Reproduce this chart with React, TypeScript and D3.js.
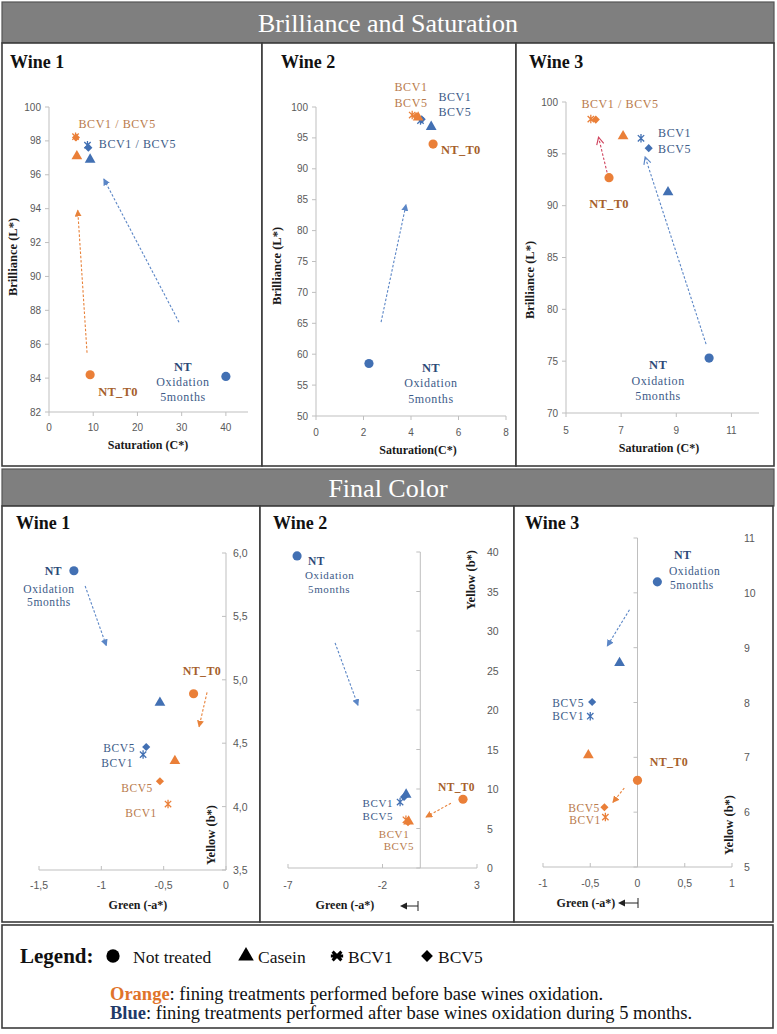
import React from "react";
import * as d3 from "d3";

// ---------------- categories ----------------
const treatments = ["NT", "Casein", "BCV1", "BCV5"];
const legendNames = ["Not treated", "Casein", "BCV1", "BCV5"];

type Pt = { g: "before" | "after"; t: string; x: number; y: number };
type Arr = { c: "orange" | "blue" | "pink"; x1: number; y1: number; x2: number; y2: number };
type Lbl = { s: string; x: number; y: number; k: "o" | "ob" | "b" | "bb"; a: "start" | "middle" | "end" };

// ---------------- Brilliance (L*) vs Saturation (C*) ----------------
const satWine1: Pt[] = [
  { g: "before", t: "NT", x: 9.3, y: 84.2 },
  { g: "before", t: "Casein", x: 6.3, y: 97.1 },
  { g: "before", t: "BCV5", x: 6.1, y: 98.2 },
  { g: "before", t: "BCV1", x: 6.0, y: 98.25 },
  { g: "after", t: "NT", x: 40, y: 84.1 },
  { g: "after", t: "Casein", x: 9.3, y: 96.9 },
  { g: "after", t: "BCV5", x: 8.9, y: 97.6 },
  { g: "after", t: "BCV1", x: 8.7, y: 97.75 },
];
const satWine2: Pt[] = [
  { g: "after", t: "NT", x: 2.23, y: 58.5 },
  { g: "after", t: "Casein", x: 4.85, y: 96.8 },
  { g: "after", t: "BCV1", x: 4.4, y: 97.8 },
  { g: "after", t: "BCV5", x: 4.45, y: 98.0 },
  { g: "before", t: "NT", x: 4.93, y: 94.0 },
  { g: "before", t: "Casein", x: 4.3, y: 98.3 },
  { g: "before", t: "BCV1", x: 4.05, y: 98.7 },
  { g: "before", t: "BCV5", x: 4.22, y: 98.5 },
];
const satWine3: Pt[] = [
  { g: "after", t: "NT", x: 10.19, y: 75.3 },
  { g: "after", t: "Casein", x: 8.7, y: 91.3 },
  { g: "after", t: "BCV1", x: 7.72, y: 96.5 },
  { g: "after", t: "BCV5", x: 8.0, y: 95.55 },
  { g: "before", t: "NT", x: 6.56, y: 92.7 },
  { g: "before", t: "Casein", x: 7.07, y: 96.7 },
  { g: "before", t: "BCV1", x: 5.9, y: 98.35 },
  { g: "before", t: "BCV5", x: 6.08, y: 98.3 },
];
const satWine1Arrows: Arr[] = [
  { c: "orange", x1: 8.6, y1: 85.5, x2: 6.5, y2: 93.9 },
  { c: "blue", x1: 29.4, y1: 87.3, x2: 12.4, y2: 95.75 },
];
const satWine2Arrows: Arr[] = [{ c: "blue", x1: 2.74, y1: 65.2, x2: 3.79, y2: 84.2 }];
const satWine3Arrows: Arr[] = [
  { c: "pink", x1: 6.49, y1: 93.2, x2: 6.18, y2: 96.6 },
  { c: "blue", x1: 10.08, y1: 76.65, x2: 7.87, y2: 94.7 },
];
const satWine1Labels: Lbl[] = [
  { s: "BCV1 / BCV5", x: 15.4, y: 99.0, k: "o", a: "middle" },
  { s: "BCV1 / BCV5", x: 20.0, y: 97.8, k: "b", a: "middle" },
  { s: "NT_T0", x: 15.6, y: 83.2, k: "ob", a: "middle" },
  { s: "NT", x: 30.3, y: 84.65, k: "bb", a: "middle" },
  { s: "Oxidation", x: 30.3, y: 83.75, k: "b", a: "middle" },
  { s: "5months", x: 30.3, y: 82.9, k: "b", a: "middle" },
];
const satWine2Labels: Lbl[] = [
  { s: "BCV1", x: 4.0, y: 103.2, k: "o", a: "middle" },
  { s: "BCV5", x: 4.0, y: 100.65, k: "o", a: "middle" },
  { s: "BCV1", x: 5.85, y: 101.6, k: "b", a: "middle" },
  { s: "BCV5", x: 5.85, y: 99.2, k: "b", a: "middle" },
  { s: "NT_T0", x: 5.26, y: 93.1, k: "ob", a: "start" },
  { s: "NT", x: 4.84, y: 57.7, k: "bb", a: "middle" },
  { s: "Oxidation", x: 4.84, y: 55.3, k: "b", a: "middle" },
  { s: "5months", x: 4.84, y: 52.7, k: "b", a: "middle" },
];
const satWine3Labels: Lbl[] = [
  { s: "BCV1 / BCV5", x: 6.96, y: 99.8, k: "o", a: "middle" },
  { s: "BCV1", x: 8.34, y: 97.0, k: "b", a: "start" },
  { s: "BCV5", x: 8.34, y: 95.5, k: "b", a: "start" },
  { s: "NT_T0", x: 6.56, y: 90.2, k: "ob", a: "middle" },
  { s: "NT", x: 8.34, y: 74.6, k: "bb", a: "middle" },
  { s: "Oxidation", x: 8.34, y: 73.1, k: "b", a: "middle" },
  { s: "5months", x: 8.34, y: 71.6, k: "b", a: "middle" },
];

// ---------------- Final colour: Yellow (b*) vs Green (-a*) ----------------
const colWine1: Pt[] = [
  { g: "after", t: "NT", x: -1.22, y: 5.86 },
  { g: "after", t: "Casein", x: -0.53, y: 4.82 },
  { g: "after", t: "BCV5", x: -0.64, y: 4.47 },
  { g: "after", t: "BCV1", x: -0.665, y: 4.41 },
  { g: "before", t: "NT", x: -0.26, y: 4.89 },
  { g: "before", t: "Casein", x: -0.41, y: 4.36 },
  { g: "before", t: "BCV5", x: -0.53, y: 4.2 },
  { g: "before", t: "BCV1", x: -0.465, y: 4.02 },
];
const colWine2: Pt[] = [
  { g: "after", t: "NT", x: -6.52, y: 39.5 },
  { g: "after", t: "BCV1", x: -1.07, y: 8.35 },
  { g: "after", t: "BCV5", x: -0.86, y: 9.0 },
  { g: "after", t: "Casein", x: -0.75, y: 9.3 },
  { g: "before", t: "NT", x: 2.26, y: 8.7 },
  { g: "before", t: "Casein", x: -0.62, y: 5.9 },
  { g: "before", t: "BCV1", x: -0.76, y: 6.1 },
  { g: "before", t: "BCV5", x: -0.65, y: 5.8 },
];
const colWine3: Pt[] = [
  { g: "after", t: "NT", x: 0.21, y: 10.2 },
  { g: "after", t: "Casein", x: -0.19, y: 8.72 },
  { g: "after", t: "BCV5", x: -0.48, y: 8.01 },
  { g: "after", t: "BCV1", x: -0.5, y: 7.75 },
  { g: "before", t: "NT", x: 0.0, y: 6.58 },
  { g: "before", t: "Casein", x: -0.52, y: 7.04 },
  { g: "before", t: "BCV5", x: -0.35, y: 6.09 },
  { g: "before", t: "BCV1", x: -0.34, y: 5.91 },
];
const colWine1Arrows: Arr[] = [
  { c: "blue", x1: -1.13, y1: 5.74, x2: -0.96, y2: 5.27 },
  { c: "orange", x1: -0.152, y1: 4.9, x2: -0.216, y2: 4.63 },
];
const colWine2Arrows: Arr[] = [
  { c: "blue", x1: -4.51, y1: 28.5, x2: -3.3, y2: 20.6 },
  { c: "orange", x1: 1.62, y1: 8.2, x2: 0.3, y2: 6.45 },
];
const colWine3Arrows: Arr[] = [
  { c: "blue", x1: -0.085, y1: 9.69, x2: -0.32, y2: 9.03 },
  { c: "orange", x1: -0.14, y1: 6.44, x2: -0.26, y2: 6.18 },
];
const colWine1Labels: Lbl[] = [
  { s: "NT", x: -1.316, y: 5.858, k: "bb", a: "end" },
  { s: "Oxidation", x: -1.42, y: 5.72, k: "b", a: "middle" },
  { s: "5months", x: -1.42, y: 5.61, k: "b", a: "middle" },
  { s: "NT_T0", x: -0.193, y: 5.07, k: "ob", a: "middle" },
  { s: "BCV5", x: -0.73, y: 4.46, k: "b", a: "end" },
  { s: "BCV1", x: -0.745, y: 4.34, k: "b", a: "end" },
  { s: "BCV5", x: -0.586, y: 4.15, k: "o", a: "end" },
  { s: "BCV1", x: -0.554, y: 3.95, k: "o", a: "end" },
];
const colWine2Labels: Lbl[] = [
  { s: "NT", x: -5.94, y: 38.9, k: "bb", a: "start" },
  { s: "Oxidation", x: -6.1, y: 37.1, k: "b", a: "start" },
  { s: "5months", x: -5.94, y: 35.3, k: "b", a: "start" },
  { s: "NT_T0", x: 0.94, y: 10.25, k: "ob", a: "start" },
  { s: "BCV1", x: -1.44, y: 8.2, k: "b", a: "end" },
  { s: "BCV5", x: -1.44, y: 6.6, k: "b", a: "end" },
  { s: "BCV1", x: -1.39, y: 4.3, k: "o", a: "middle" },
  { s: "BCV5", x: -1.13, y: 2.8, k: "o", a: "middle" },
];
const colWine3Labels: Lbl[] = [
  { s: "NT", x: 0.386, y: 10.69, k: "bb", a: "start" },
  { s: "Oxidation", x: 0.333, y: 10.4, k: "b", a: "start" },
  { s: "5months", x: 0.344, y: 10.14, k: "b", a: "start" },
  { s: "BCV5", x: -0.566, y: 8.0, k: "b", a: "end" },
  { s: "BCV1", x: -0.566, y: 7.75, k: "b", a: "end" },
  { s: "NT_T0", x: 0.13, y: 6.91, k: "ob", a: "start" },
  { s: "BCV5", x: -0.397, y: 6.08, k: "o", a: "end" },
  { s: "BCV1", x: -0.387, y: 5.86, k: "o", a: "end" },
];

// ---------------- ticks ----------------
const satWine1XTicks = [0, 10, 20, 30, 40];
const satWine1YTicks = [82, 84, 86, 88, 90, 92, 94, 96, 98, 100];
const satWine2XTicks = [0, 2, 4, 6, 8];
const satWine2YTicks = [50, 55, 60, 65, 70, 75, 80, 85, 90, 95, 100];
const satWine3XTicks = [5, 7, 9, 11];
const satWine3YTicks = [70, 75, 80, 85, 90, 95, 100];
const colWine1XTicks = [-1.5, -1, -0.5, 0];
const colWine1YTicks = [3.5, 4, 4.5, 5, 5.5, 6];
const colWine2XTicks = [-7, -2, 3];
const colWine2YTicks = [0, 5, 10, 15, 20, 25, 30, 35, 40];
const colWine3XTicks = [-1, -0.5, 0, 0.5, 1];
const colWine3YTicks = [5, 6, 7, 8, 9, 10, 11];

// ---------------- styling ----------------
const SERIF = "Liberation Serif, DejaVu Serif, serif";
const SANS = "Liberation Sans, Arial, sans-serif";
const AXIS = "#bfbfbf";
const FRAME = "#3c3c3c";
const markColor = { before: "#EA7F38", after: "#4270B3" };
const textColor = { o: "#B97B4C", ob: "#A65F2C", b: "#3D5B88", bb: "#2D4A78" };
const arrowColor = { orange: "#E8823A", blue: "#5B86C6", pink: "#D0455F" };

const loc = d3.formatLocale({ decimal: ",", thousands: ".", grouping: [3], currency: ["", ""], minus: "-" });
const fmtG = loc.format("~g");
const fmt1 = loc.format(".1f");
const fmtD = loc.format("d");

const starType = {
  draw(ctx: any, size: number) {
    const r = Math.sqrt(size) / 2;
    const k = r * 0.75;
    ctx.moveTo(0, -r);
    ctx.lineTo(0, r);
    ctx.moveTo(-k, -k);
    ctx.lineTo(k, k);
    ctx.moveTo(-k, k);
    ctx.lineTo(k, -k);
  },
};
const legendStarType = {
  draw(ctx: any, size: number) {
    const r = Math.sqrt(size) / 2;
    const k = r * 0.72;
    ctx.moveTo(-r, 0);
    ctx.lineTo(r, 0);
    ctx.moveTo(-k, -k);
    ctx.lineTo(k, k);
    ctx.moveTo(-k, k);
    ctx.lineTo(k, -k);
  },
};
const symTypes: Record<string, any> = {
  NT: d3.symbolCircle,
  Casein: d3.symbolTriangle,
  BCV1: starType,
  BCV5: d3.symbolDiamond2,
};
const symSizes: Record<string, number> = { NT: 66, Casein: 50, BCV1: 72, BCV5: 42 };

function Mark({ t, cx, cy, color, scale = 1, star = starType, sw = 1.3 }: any) {
  const type = t === "BCV1" ? star : symTypes[t];
  const d = d3.symbol().type(type).size(symSizes[t] * scale)()!;
  const isStar = t === "BCV1";
  return (
    <path
      d={d}
      transform={`translate(${cx},${cy})`}
      fill={isStar ? "none" : color}
      stroke={isStar ? color : "none"}
      strokeWidth={isStar ? sw : 0}
    />
  );
}

type Layout = {
  box: [number, number, number, number];
  title: string;
  titlePos: [number, number];
  xDomain: [number, number];
  xRange: [number, number];
  yDomain: [number, number];
  yRange: [number, number];
  xAxisAt: number;
  yAxisAt: number;
  xTickDir: number;
  xLabelY: number;
  yLabelX: number | null;
  yLabelAnchor: "start" | "end";
  tickFont: number;
  labelFont: number;
  xTitle: string;
  xTitlePos: [number, number];
  yTitle: string;
  yTitlePos: [number, number];
  backArrow?: [number, number, number];
  openHeads?: boolean;
};

function Panel({ L, pts, arrows, labels, xTicks, yTicks, xFmt, yFmt }: any) {
  const lay = L as Layout;
  const x = d3.scaleLinear().domain(lay.xDomain).range(lay.xRange);
  const y = d3.scaleLinear().domain(lay.yDomain).range(lay.yRange);
  const axY = y(lay.xAxisAt);
  const axX = x(lay.yAxisAt);
  const yLabX = lay.yLabelX ?? axX - 8;
  return (
    <g>
      <rect x={lay.box[0]} y={lay.box[1]} width={lay.box[2]} height={lay.box[3]} fill="#fff" stroke={FRAME} strokeWidth={1.6} />
      <text x={lay.titlePos[0]} y={lay.titlePos[1]} fontFamily={SERIF} fontWeight="bold" fontSize={18} fill="#111">
        {lay.title}
      </text>
      {/* x axis */}
      <line x1={x(lay.xDomain[0])} x2={x(lay.xDomain[1])} y1={axY} y2={axY} stroke={AXIS} strokeWidth={1} />
      {xTicks.map((v: number) => (
        <g key={"xt" + v}>
          <line x1={x(v)} x2={x(v)} y1={axY} y2={axY + lay.xTickDir * 4} stroke={AXIS} />
          <text x={x(v)} y={lay.xLabelY} textAnchor="middle" dominantBaseline="central" fontFamily={SANS} fontSize={lay.tickFont} fill="#595959">
            {xFmt(v)}
          </text>
        </g>
      ))}
      {/* y axis */}
      <line x1={axX} x2={axX} y1={y(lay.yDomain[0])} y2={y(lay.yDomain[1])} stroke={AXIS} strokeWidth={1} />
      {yTicks.map((v: number) => (
        <g key={"yt" + v}>
          <line x1={axX - 4} x2={axX} y1={y(v)} y2={y(v)} stroke={AXIS} />
          <text x={yLabX} y={y(v)} textAnchor={lay.yLabelAnchor} dominantBaseline="central" fontFamily={SANS} fontSize={lay.tickFont} fill="#595959">
            {yFmt(v)}
          </text>
        </g>
      ))}
      {/* axis titles */}
      <text x={lay.xTitlePos[0]} y={lay.xTitlePos[1]} textAnchor="middle" dominantBaseline="central" fontFamily={SERIF} fontWeight="bold" fontSize={12} fill="#1a1a1a">
        {lay.xTitle}
      </text>
      {lay.backArrow && (
        <g stroke="#222" strokeWidth={1}>
          <line x1={lay.backArrow[0]} x2={lay.backArrow[1] + 5} y1={lay.backArrow[2]} y2={lay.backArrow[2]} />
          <line x1={lay.backArrow[0]} x2={lay.backArrow[0]} y1={lay.backArrow[2] - 5} y2={lay.backArrow[2] + 5} />
          <path d={`M${lay.backArrow[1]},${lay.backArrow[2]} l7,-3.5 l0,7 z`} fill="#222" stroke="none" />
        </g>
      )}
      <text
        transform={`translate(${lay.yTitlePos[0]},${lay.yTitlePos[1]}) rotate(-90)`}
        textAnchor="middle"
        dominantBaseline="central"
        fontFamily={SERIF}
        fontWeight="bold"
        fontSize={12.5}
        fill="#1a1a1a"
      >
        {lay.yTitle}
      </text>
      {/* arrows */}
      {arrows.map((a: Arr, i: number) => (
        <line
          key={"ar" + i}
          x1={x(a.x1)}
          y1={y(a.y1)}
          x2={x(a.x2)}
          y2={y(a.y2)}
          stroke={arrowColor[a.c]}
          strokeWidth={1.1}
          strokeDasharray="2.5,1.8"
          markerEnd={`url(#head-${a.c}${lay.openHeads ? "-open" : ""})`}
        />
      ))}
      {/* points */}
      {pts.map((p: Pt, i: number) => (
        <Mark key={"p" + i} t={p.t} cx={x(p.x)} cy={y(p.y)} color={markColor[p.g]} />
      ))}
      {/* labels */}
      {labels.map((l: Lbl, i: number) => {
        const bold = l.k === "ob" || l.k === "bb";
        return (
          <text
            key={"l" + i}
            x={x(l.x)}
            y={y(l.y)}
            textAnchor={l.a}
            dominantBaseline="central"
            fontFamily={SERIF}
            fontSize={bold ? lay.labelFont + 0.5 : lay.labelFont}
            fontWeight={bold ? "bold" : "normal"}
            letterSpacing={bold ? 0.3 : 0.6}
            fill={textColor[l.k]}
          >
            {l.s}
          </text>
        );
      })}
    </g>
  );
}

const satL1: Layout = {
  box: [2, 43, 260, 423], title: "Wine 1", titlePos: [10, 68],
  xDomain: [0, 45], xRange: [49, 248], yDomain: [82, 100], yRange: [412, 107],
  xAxisAt: 82, yAxisAt: 0, xTickDir: 1, xLabelY: 427, yLabelX: null, yLabelAnchor: "end", tickFont: 10, labelFont: 12,
  xTitle: "Saturation (C*)", xTitlePos: [148, 445], yTitle: "Brilliance (L*)", yTitlePos: [13, 257],
};
const satL2: Layout = {
  box: [262, 43, 254, 423], title: "Wine 2", titlePos: [281, 68],
  xDomain: [0, 8], xRange: [316, 506], yDomain: [50, 100], yRange: [416, 107],
  xAxisAt: 50, yAxisAt: 0, xTickDir: 1, xLabelY: 432, yLabelX: null, yLabelAnchor: "end", tickFont: 10, labelFont: 12,
  xTitle: "Saturation(C*)", xTitlePos: [418, 450], yTitle: "Brilliance (L*)", yTitlePos: [277, 266],
};
const satL3: Layout = {
  box: [516, 43, 258, 423], title: "Wine 3", titlePos: [529, 68],
  xDomain: [5, 12], xRange: [566, 759], yDomain: [70, 100], yRange: [413, 102],
  xAxisAt: 70, yAxisAt: 5, xTickDir: 1, xLabelY: 430, yLabelX: null, yLabelAnchor: "end", tickFont: 10, labelFont: 12,
  xTitle: "Saturation (C*)", xTitlePos: [659, 448], yTitle: "Brilliance (L*)", yTitlePos: [530, 280],
  openHeads: true,
};
const colL1: Layout = {
  box: [2, 506, 258, 416], title: "Wine 1", titlePos: [16, 529],
  xDomain: [-1.5, 0], xRange: [39, 226], yDomain: [3.5, 6], yRange: [870, 553],
  xAxisAt: 3.5, yAxisAt: 0, xTickDir: -1, xLabelY: 885, yLabelX: 233, yLabelAnchor: "start", tickFont: 10.5, labelFont: 11.5,
  xTitle: "Green (-a*)", xTitlePos: [138, 905], yTitle: "Yellow (b*)", yTitlePos: [211, 835],
};
const colL2: Layout = {
  box: [260, 506, 254, 416], title: "Wine 2", titlePos: [273, 529],
  xDomain: [-7, 3], xRange: [288, 477], yDomain: [0, 40], yRange: [868, 552],
  xAxisAt: 0, yAxisAt: 0, xTickDir: -1, xLabelY: 885, yLabelX: 487, yLabelAnchor: "start", tickFont: 10.5, labelFont: 11,
  xTitle: "Green (-a*)", xTitlePos: [345, 905], yTitle: "Yellow (b*)", yTitlePos: [471, 580],
  backArrow: [418, 400, 906],
};
const colL3: Layout = {
  box: [514, 506, 259, 416], title: "Wine 3", titlePos: [525, 529],
  xDomain: [-1, 1], xRange: [543, 732], yDomain: [5, 11], yRange: [867, 538],
  xAxisAt: 5, yAxisAt: 0, xTickDir: -1, xLabelY: 883, yLabelX: 744, yLabelAnchor: "start", tickFont: 10.5, labelFont: 11.5,
  xTitle: "Green (-a*)", xTitlePos: [586, 903], yTitle: "Yellow (b*)", yTitlePos: [729, 825],
  backArrow: [638, 618, 903],
};

function Heads() {
  return (
    <defs>
      {(["orange", "blue", "pink"] as const).map((c) => (
        <g key={c}>
          <marker id={`head-${c}`} viewBox="0 0 8 8" refX={7} refY={4} markerWidth={7} markerHeight={7} markerUnits="userSpaceOnUse" orient="auto">
            <path d="M0,0 L8,4 L0,8 z" fill={arrowColor[c]} />
          </marker>
          <marker id={`head-${c}-open`} viewBox="0 0 10 10" refX={9} refY={5} markerWidth={9} markerHeight={9} markerUnits="userSpaceOnUse" orient="auto">
            <path d="M1,1 L9,5 L1,9" fill="none" stroke={arrowColor[c]} strokeWidth={1.3} />
          </marker>
        </g>
      ))}
    </defs>
  );
}

function Banner({ y, h, text }: { y: number; h: number; text: string }) {
  return (
    <g>
      <rect x={2} y={y} width={772} height={h} fill="#7f7f7f" stroke="#555" strokeWidth={1.2} />
      <text x={388} y={y + h / 2 + 1} textAnchor="middle" dominantBaseline="central" fontFamily={SERIF} fontSize={26} fill="#fff">
        {text}
      </text>
    </g>
  );
}

function Legend() {
  const ly = 956;
  const items = [
    { t: treatments[0], mx: 113, tx: 133 },
    { t: treatments[1], mx: 246, tx: 258 },
    { t: treatments[2], mx: 337, tx: 348 },
    { t: treatments[3], mx: 427, tx: 438 },
  ];
  return (
    <g>
      <rect x={2} y={925} width={771} height={103} fill="#fff" stroke={FRAME} strokeWidth={1.6} />
      <text x={20} y={ly} dominantBaseline="central" fontFamily={SERIF} fontWeight="bold" fontSize={21} fill="#111">
        Legend:
      </text>
      {items.map((it, i) => (
        <g key={it.t}>
          <Mark t={it.t} cx={it.mx} cy={ly} color="#000" scale={2.1} star={legendStarType} sw={3} />
          <text x={it.tx} y={ly + 1} dominantBaseline="central" fontFamily={SERIF} fontSize={17.5} fill="#111">
            {legendNames[i]}
          </text>
        </g>
      ))}
      <text x={110} y={994} dominantBaseline="central" fontFamily={SERIF} fontSize={18.5} fill="#111">
        <tspan fontWeight="bold" fill="#E0742A">Orange</tspan>: fining treatments performed before base wines oxidation.
      </text>
      <text x={110} y={1013} dominantBaseline="central" fontFamily={SERIF} fontSize={18.5} fill="#111">
        <tspan fontWeight="bold" fill="#1F3A68">Blue</tspan>: fining treatments performed after base wines oxidation during 5 months.
      </text>
    </g>
  );
}

export default function App() {
  return (
    <svg width={777} height={1034} style={{ position: "absolute", left: 0, top: 0, background: "#fff" }}>
      <rect width={777} height={1034} fill="#fff" />
      <Heads />
      <Banner y={2} h={41} text="Brilliance and Saturation" />
      <Panel L={satL1} pts={satWine1} arrows={satWine1Arrows} labels={satWine1Labels} xTicks={satWine1XTicks} yTicks={satWine1YTicks} xFmt={fmtD} yFmt={fmtD} />
      <Panel L={satL2} pts={satWine2} arrows={satWine2Arrows} labels={satWine2Labels} xTicks={satWine2XTicks} yTicks={satWine2YTicks} xFmt={fmtD} yFmt={fmtD} />
      <Panel L={satL3} pts={satWine3} arrows={satWine3Arrows} labels={satWine3Labels} xTicks={satWine3XTicks} yTicks={satWine3YTicks} xFmt={fmtD} yFmt={fmtD} />
      <Banner y={469} h={37} text="Final Color" />
      <Panel L={colL1} pts={colWine1} arrows={colWine1Arrows} labels={colWine1Labels} xTicks={colWine1XTicks} yTicks={colWine1YTicks} xFmt={fmtG} yFmt={fmt1} />
      <Panel L={colL2} pts={colWine2} arrows={colWine2Arrows} labels={colWine2Labels} xTicks={colWine2XTicks} yTicks={colWine2YTicks} xFmt={fmtD} yFmt={fmtD} />
      <Panel L={colL3} pts={colWine3} arrows={colWine3Arrows} labels={colWine3Labels} xTicks={colWine3XTicks} yTicks={colWine3YTicks} xFmt={fmtG} yFmt={fmtD} />
      <Legend />
    </svg>
  );
}
